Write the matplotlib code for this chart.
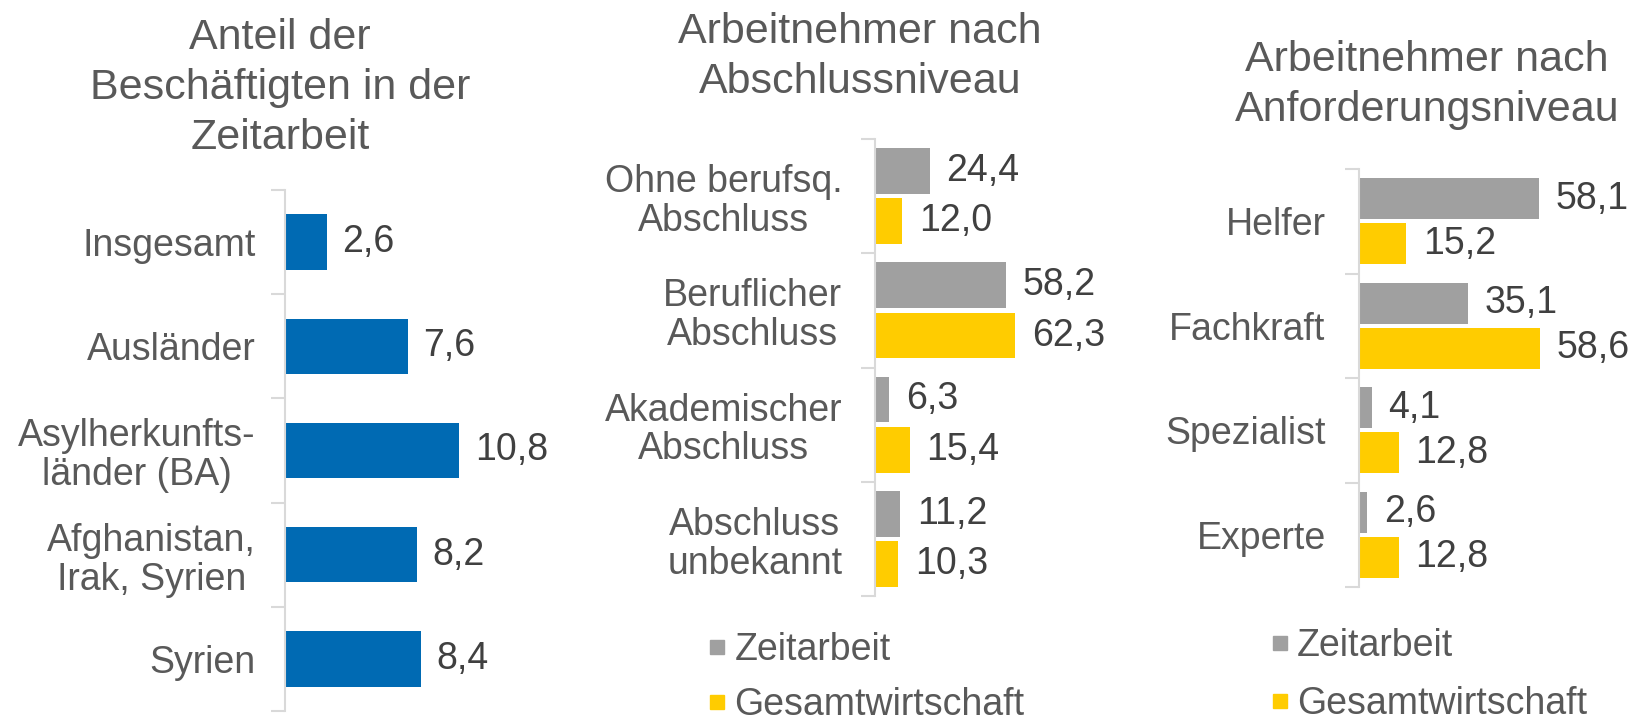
import matplotlib
matplotlib.use("Agg")
import matplotlib.pyplot as plt
from matplotlib.lines import Line2D
import numpy as np

plt.rcParams['font.family'] = ['Liberation Sans', 'DejaVu Sans']

# ---- data ----
p1_title = "Anteil der\nBeschäftigten in der\nZeitarbeit"
p1_cats = ["Insgesamt", "Ausländer", "Asylherkunfts-\nländer (BA)",
           "Afghanistan,\nIrak, Syrien", "Syrien"]
p1_vals = [2.6, 7.6, 10.8, 8.2, 8.4]

p2_title = "Arbeitnehmer nach\nAbschlussniveau"
p2_cats = ["Ohne berufsq.\nAbschluss", "Beruflicher\nAbschluss",
           "Akademischer\nAbschluss", "Abschluss\nunbekannt"]
p2_zeit = [24.4, 58.2, 6.3, 11.2]
p2_gesamt = [12.0, 62.3, 15.4, 10.3]

p3_title = "Arbeitnehmer nach\nAnforderungsniveau"
p3_cats = ["Helfer", "Fachkraft", "Spezialist", "Experte"]
p3_zeit = [58.1, 35.1, 4.1, 2.6]
p3_gesamt = [15.2, 58.6, 12.8, 12.8]

series_names = ["Zeitarbeit", "Gesamtwirtschaft"]

# ---- style ----
BLUE = "#006AB3"
GRAY = "#A0A0A0"
YELLOW = "#FFCC00"
AXC = "#D9D9D9"
TXT = "#595959"
VAL = "#404040"
FS = 27
TFS = 31

W, H = 1639, 726
fig = plt.figure(figsize=(W / 100, H / 100), dpi=100)


def fmt(v):
    return f"{v:.1f}".replace(".", ",")


def px_axes(left, top, right, bottom):
    return fig.add_axes([left / W, (H - bottom) / H, (right - left) / W, (bottom - top) / H])


def style_axis(ax, cats, pad):
    n = len(cats)
    ax.set_ylim(n - 0.5, -0.5)
    ax.set_yticks(np.arange(n))
    ax.set_yticklabels(cats, fontsize=FS, color=TXT, multialignment='center',
                       linespacing=1.1)
    ax.tick_params(axis='y', which='major', length=0, pad=pad)
    ax.set_yticks(np.arange(n + 1) - 0.5, minor=True)
    ax.tick_params(axis='y', which='minor', length=10, width=1.5, color=AXC)
    ax.set_xticks([])
    for s in ['top', 'right', 'bottom']:
        ax.spines[s].set_visible(False)
    ax.spines['left'].set_color(AXC)
    ax.spines['left'].set_linewidth(1.5)


# ---- panel 1 ----
ax1 = px_axes(285, 190, 545, 711)
y = np.arange(len(p1_cats))
b = ax1.barh(y, p1_vals, height=0.53, color=BLUE)
ax1.set_xlim(0, 16.1)
style_axis(ax1, p1_cats, 21)
ax1.bar_label(b, labels=[fmt(v) for v in p1_vals], padding=11, fontsize=FS, color=VAL)
fig.text(280 / W, 1 - 88 / H, p1_title, ha='center', va='center', fontsize=TFS,
         color=TXT, linespacing=1.32)

# ---- panel 2 ----
ax2 = px_axes(875, 139, 1100, 596)
y = np.arange(len(p2_cats))
b1 = ax2.barh(y - 0.22, p2_zeit, height=0.40, color=GRAY)
b2 = ax2.barh(y + 0.22, p2_gesamt, height=0.40, color=YELLOW)
ax2.set_xlim(0, 100)
style_axis(ax2, p2_cats, 23.5)
ax2.bar_label(b1, labels=[fmt(v) for v in p2_zeit], padding=12, fontsize=FS, color=VAL)
ax2.bar_label(b2, labels=[fmt(v) for v in p2_gesamt], padding=12, fontsize=FS, color=VAL)
fig.text(860 / W, 1 - 57 / H, p2_title, ha='center', va='center', fontsize=TFS,
         color=TXT, linespacing=1.32)

# ---- panel 3 ----
ax3 = px_axes(1359, 169, 1639, 587)
y = np.arange(len(p3_cats))
c1 = ax3.barh(y - 0.215, p3_zeit, height=0.395, color=GRAY)
c2 = ax3.barh(y + 0.215, p3_gesamt, height=0.395, color=YELLOW)
ax3.set_xlim(0, 90.5)
style_axis(ax3, p3_cats, 24)
ax3.bar_label(c1, labels=[fmt(v) for v in p3_zeit], padding=12, fontsize=FS, color=VAL)
ax3.bar_label(c2, labels=[fmt(v) for v in p3_gesamt], padding=12, fontsize=FS, color=VAL)
fig.text(1427 / W, 1 - 85 / H, p3_title, ha='center', va='center', fontsize=TFS,
         color=TXT, linespacing=1.32)

# ---- legends ----
def make_legend(x_left, y_top, spacing):
    handles = [Line2D([], [], linestyle='none', marker='s', markersize=10,
                      markerfacecolor=c, markeredgecolor=c) for c in (GRAY, YELLOW)]
    leg = fig.legend(handles, series_names, loc='upper left',
                     bbox_to_anchor=(x_left / W, 1 - y_top / H), frameon=False,
                     fontsize=FS, handlelength=0.5, handletextpad=0.2,
                     labelspacing=spacing, borderpad=0, borderaxespad=0)
    for t in leg.get_texts():
        t.set_color(TXT)
    return leg

make_legend(708, 632, 0.5)
make_legend(1271, 628, 0.6)

fig.savefig("out.png", dpi=100)
